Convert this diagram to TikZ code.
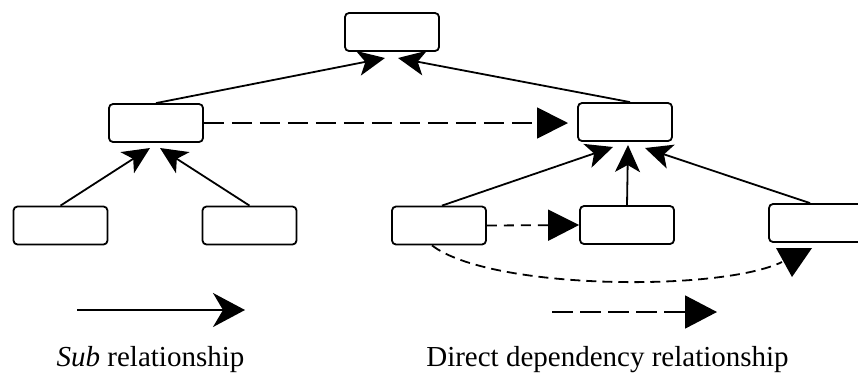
\documentclass[tikz,border=0pt]{standalone}
\usepackage{fontspec}
\setmainfont{Liberation Serif}
\usetikzlibrary{arrows.meta,calc}

\begin{document}
\begin{tikzpicture}[x=1pt,y=-1pt,
  box/.style={draw, line width=1.8pt, rounded corners=4pt, fill=white,
    minimum width=94pt, minimum height=38pt, inner sep=0pt},
  sub/.style={line width=1.8pt, -{Stealth[length=27pt, width=25pt, inset=7pt]}},
  subkey/.style={line width=1.8pt, -{Stealth[length=32pt, width=34pt, inset=10pt]}},
  dep/.style={line width=1.8pt, dash pattern=on 20pt off 8pt,
    -{Triangle[length=31pt, width=31pt]}},
  depshort/.style={line width=1.8pt, dash pattern=on 10pt off 7pt,
    -{Triangle[length=31pt, width=31pt]}},
  depkey/.style={line width=1.8pt, dash pattern=on 21pt off 7pt,
    -{Triangle[length=32pt, width=33pt]}},
  label/.style={font=\fontsize{29}{33}\selectfont, anchor=base, inner sep=0pt}]

\useasboundingbox (0,0) rectangle (858,376);
\clip (0,0) rectangle (858,376);

% boxes
\node[box] (top) at (392,32) {};
\node[box] (ml)  at (156,123) {};
\node[box] (mr)  at (625,122) {};
\node[box] (bl1) at (60.5,225.5) {};
\node[box] (bl2) at (249.5,225.5) {};
\node[box] (b3)  at (439,225.5) {};
\node[box] (b4)  at (627,225) {};
\node[box] (b5)  at (816,223) {};

% arrow tip points below each parent
\coordinate (topL) at (385,58);
\coordinate (topR) at (398,58);
\coordinate (mlL) at (150,148);
\coordinate (mlR) at (160,148);
\coordinate (mrL) at (613,147);
\coordinate (mrC) at (628,145);
\coordinate (mrR) at (645,148);
\coordinate (depA) at (568,123);
\coordinate (curveEnd) at (782,262);
\coordinate (b5tip) at (792,277);

% sub relationships
\draw[sub] (ml.north) -- (topL);
\draw[sub] ($(mr.north)+(5,0)$) -- (topR);
\draw[sub] (bl1.north) -- (mlL);
\draw[sub] (bl2.north) -- (mlR);
\draw[sub] ($(b3.north)+(3,0)$) -- (mrL);
\draw[sub] (b4.north) -- (mrC);
\draw[sub] ($(b5.north)+(-6,0)$) -- (mrR);

% direct dependency relationships
\draw[dep] (ml.east) -- (depA);
\draw[depshort] (b3.east) -- (b4.west);
\draw[line width=1.8pt, dash pattern=on 10pt off 6pt]
  ($(b3.south)+(-7,0)$) .. controls (490,290) and (720,292) .. (curveEnd);
\fill (776,248) -- (812,248) -- (b5tip) -- cycle;

% legend
\coordinate (s1) at (77,310);
\coordinate (s2) at (245,310);
\coordinate (d1) at (552,312);
\coordinate (d2) at (717,312);
\draw[subkey] (s1) -- (s2);
\draw[depkey] (d1) -- (d2);
\node[label] (subtext) at (150.5,366) {\textit{Sub} relationship};
\node[label] (deptext) at (607.5,366) {Direct dependency relationship};
\end{tikzpicture}
\end{document}
